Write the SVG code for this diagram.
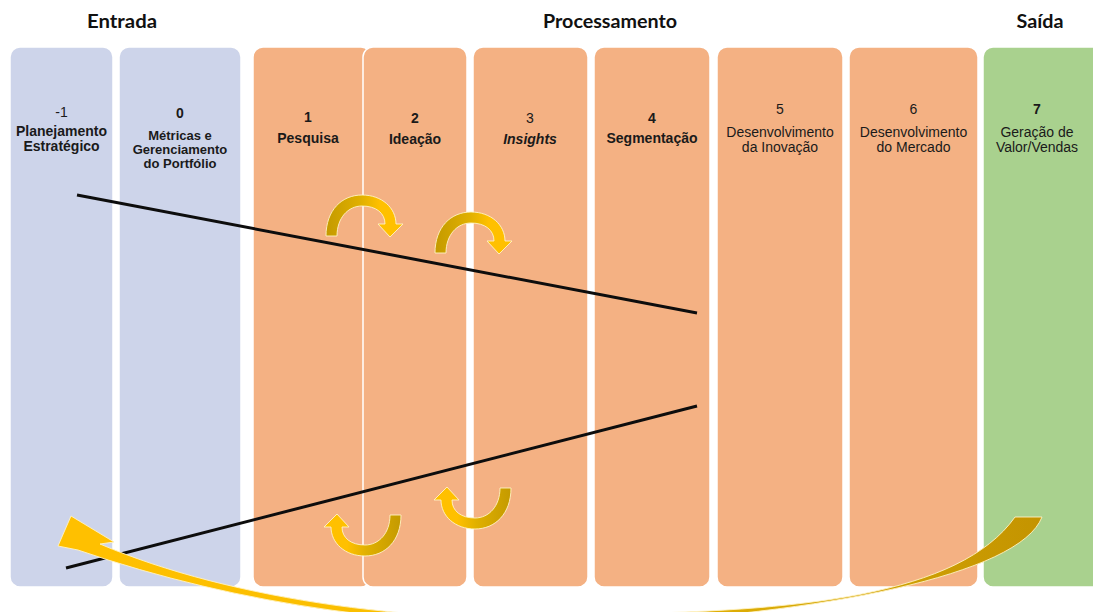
<svg xmlns="http://www.w3.org/2000/svg" width="1093" height="612" viewBox="0 0 1093 612">
  <style>
    .col { stroke: #ffffff; stroke-width: 1.5; }
    .in { fill: #CDD4EA; }
    .proc { fill: #F4B183; }
    .out { fill: #A9D18E; }
    .head { font-family: Lato, "Open Sans", sans-serif; font-weight: 700; font-size: 19px; fill: #111111; text-anchor: middle; }
    .lbl { font-family: "Liberation Sans", Arial, sans-serif; font-size: 14px; fill: #1a1a1a; text-anchor: middle; }
    .sm { font-size: 13px; }
    .b { font-weight: 700; }
    .flow { stroke: #0d0d0d; stroke-width: 3; fill: none; }
    .curl { fill: url(#curlGrad); stroke: #FFF3C4; stroke-width: 0.9; stroke-linejoin: round; }
    .sweep { fill: url(#sweepGrad); stroke: #FFF3C4; stroke-width: 0.9; stroke-linejoin: round; }
  </style>
  <defs>
    <linearGradient id="curlGrad" x1="0" y1="0" x2="1" y2="0">
      <stop offset="0" stop-color="#C49A00"/>
      <stop offset="0.45" stop-color="#E0B000"/>
      <stop offset="0.7" stop-color="#FFC000"/>
      <stop offset="1" stop-color="#FFC000"/>
    </linearGradient>
    <linearGradient id="sweepGrad" gradientUnits="userSpaceOnUse" x1="100" y1="0" x2="1040" y2="0">
      <stop offset="0" stop-color="#FFC000"/>
      <stop offset="0.4" stop-color="#F8BE00"/>
      <stop offset="0.75" stop-color="#D6A806"/>
      <stop offset="1" stop-color="#C49400"/>
    </linearGradient>
    <!-- arched arrow: tail on the left, head pointing down on the right -->
    <path id="arch" d="M 326 236 C 326 210, 342 195, 362 195 C 382 195, 396 208, 396 224 L 403 224 L 390 237 L 378 224 L 385 224 C 385 213, 376 206, 362 206 C 348 206, 337 218, 337 236 Z"/>
  </defs>

  <rect width="1093" height="612" fill="#ffffff"/>

  <!-- stage headings -->
  <g id="headings">
    <text class="head" x="122" y="28" textLength="70" lengthAdjust="spacingAndGlyphs">Entrada</text>
    <text class="head" x="610" y="28" textLength="134" lengthAdjust="spacingAndGlyphs">Processamento</text>
    <text class="head" x="1040" y="28" textLength="47" lengthAdjust="spacingAndGlyphs">Saída</text>
  </g>

  <!-- input stages -->
  <g id="stage-m1">
    <rect class="col in" x="10" y="47" width="103" height="540" rx="10"/>
    <text class="lbl" x="61.5" y="117">-1</text>
    <text class="lbl b" x="61.5" y="136">Planejamento</text>
    <text class="lbl b" x="61.5" y="151">Estratégico</text>
  </g>
  <g id="stage-0">
    <rect class="col in" x="119" y="47" width="122" height="540" rx="10"/>
    <text class="lbl b" x="180" y="118">0</text>
    <text class="lbl sm b" x="180" y="140">Métricas e</text>
    <text class="lbl sm b" x="180" y="154">Gerenciamento</text>
    <text class="lbl sm b" x="180" y="168">do Portfólio</text>
  </g>

  <!-- processing stages -->
  <g id="stage-1">
    <rect class="col proc" x="253" y="47" width="118" height="540" rx="10"/>
    <text class="lbl b" x="308" y="122">1</text>
    <text class="lbl b" x="308" y="143">Pesquisa</text>
  </g>
  <g id="stage-2">
    <rect class="col proc" x="363" y="47" width="104" height="540" rx="10"/>
    <text class="lbl b" x="415" y="123">2</text>
    <text class="lbl b" x="415" y="144">Ideação</text>
  </g>
  <g id="stage-3">
    <rect class="col proc" x="473" y="47" width="115" height="540" rx="10"/>
    <text class="lbl" x="530" y="123">3</text>
    <text class="lbl b" x="530" y="144" font-style="italic">Insights</text>
  </g>
  <g id="stage-4">
    <rect class="col proc" x="594" y="47" width="116" height="540" rx="10"/>
    <text class="lbl b" x="652" y="123">4</text>
    <text class="lbl b" x="652" y="143">Segmentação</text>
  </g>
  <g id="stage-5">
    <rect class="col proc" x="717" y="47" width="126" height="540" rx="10"/>
    <text class="lbl" x="780" y="114">5</text>
    <text class="lbl" x="780" y="137">Desenvolvimento</text>
    <text class="lbl" x="780" y="152">da Inovação</text>
  </g>
  <g id="stage-6">
    <rect class="col proc" x="849" y="47" width="129" height="540" rx="10"/>
    <text class="lbl" x="913.5" y="114">6</text>
    <text class="lbl" x="913.5" y="137">Desenvolvimento</text>
    <text class="lbl" x="913.5" y="152">do Mercado</text>
  </g>

  <!-- output stage -->
  <g id="stage-7">
    <rect class="col out" x="983" y="47" width="120" height="540" rx="10"/>
    <text class="lbl b" x="1037" y="114">7</text>
    <text class="lbl" x="1037" y="137">Geração de</text>
    <text class="lbl" x="1037" y="152">Valor/Vendas</text>
  </g>

  <g id="connectors">
    <!-- forward and return flow lines -->
    <line class="flow" x1="77" y1="195" x2="697" y2="313"/>
    <line class="flow" x1="66" y1="568" x2="697" y2="406"/>

    <!-- iteration loops between neighbouring stages -->
    <use href="#arch" class="curl"/>
    <use href="#arch" class="curl" transform="translate(109 17)"/>
    <use href="#arch" class="curl" transform="rotate(180 363.5 375.5)"/>
    <use href="#arch" class="curl" transform="translate(110 -27) rotate(180 363.5 375.5)"/>

    <!-- feedback sweep from output back to planning -->
    <path class="sweep" d="M 100 544 C 230 600, 430 628, 600 614 C 800 612, 960 595, 1015 517 L 1042 517 C 1020 575, 820 614, 600 624 C 420 630, 240 606, 78 550 L 58 546 L 71 516 L 114 542 Z"/>
  </g>
</svg>
